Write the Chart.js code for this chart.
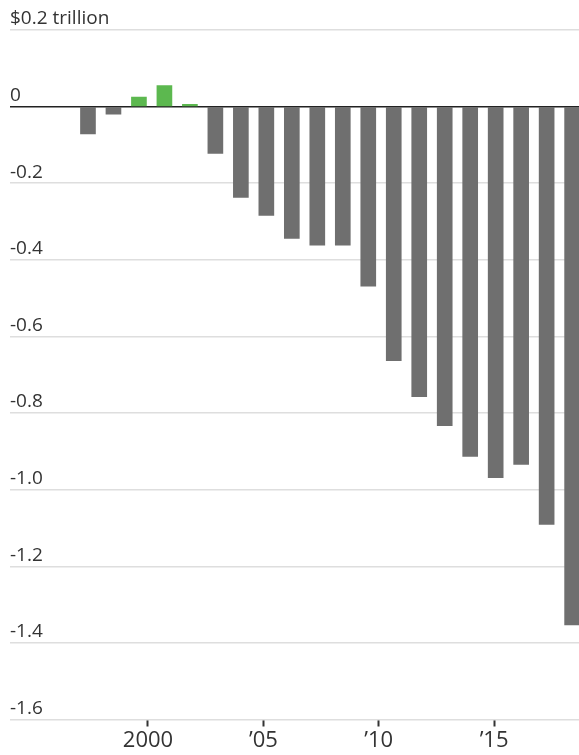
<!DOCTYPE html>
<html>
<head>
<meta charset="utf-8">
<script src="https://cdn.jsdelivr.net/npm/chart.js@4"></script>
<style>
html,body{margin:0;padding:0;background:#fff;}
#wrap{width:579px;height:755px;}
</style>
</head>
<body>
<div id="wrap"><canvas id="grafica" width="579" height="755"></canvas></div>
<script>
// datos
const years=[1997,1998,1999,2000,2001,2002,2003,2004,2005,2006,2007,2008,2009,2010,2011,2012,2013,2014,2015,2016];
const values=[-0.071,-0.020,0.025,0.055,0.006,-0.122,-0.237,-0.284,-0.344,-0.362,-0.362,-0.469,-0.663,-0.757,-0.833,-0.913,-0.969,-0.934,-1.091,-1.353];
const yTicks=[0.2,0,-0.2,-0.4,-0.6,-0.8,-1.0,-1.2,-1.4,-1.6];
const xTickYears=[2000,2005,2010,2015];
const xTickLabels=['2000','\u201905','\u201910','\u201915'];

const fuente='"Open Sans",sans-serif';

function etiquetaY(v){
    if(v===0) return '0';
    if(Math.abs(v-0.2)<1e-9) return '$0.2 trillion';
    return v.toFixed(1);
}

window.onload=function(){
    const ctx=document.getElementById("grafica");
    new Chart(ctx,{
        type:'bar',
        data:{
            datasets:[{
                data:years.map((y,i)=>({x:y,y:values[i]})),
                backgroundColor:c=>c.raw&&c.raw.y>0?'#5cb84f':'#6f6f6f',
                barThickness:15,
                borderWidth:0,
                xAxisID:'x',
                yAxisID:'y'
            }]
        },
        options:{
            responsive:false,
            animation:false,
            layout:{padding:{top:30,right:0,left:0,bottom:0}},
            plugins:{legend:{display:false},tooltip:{enabled:false}},
            scales:{
                x:{
                    type:'linear',
                    offset:false,
                    min:1993.94,
                    max:2016.27,
                    display:false
                },
                x2:{
                    type:'linear',
                    position:'bottom',
                    offset:false,
                    min:1994.02,
                    max:2018.68,
                    afterBuildTicks:s=>{s.ticks=xTickYears.map(v=>({value:v}));},
                    afterFit:s=>{s.height=35.5;},
                    border:{display:false},
                    grid:{offset:false,drawOnChartArea:false,drawTicks:true,tickLength:7,tickColor:'#333',tickWidth:2},
                    ticks:{
                        autoSkip:false,
                        maxRotation:0,
                        padding:1,
                        color:'#333',
                        font:{family:fuente,size:22},
                        callback:v=>xTickLabels[xTickYears.indexOf(v)]
                    }
                },
                y:{
                    min:-1.6,
                    max:0.2,
                    afterBuildTicks:s=>{s.ticks=yTicks.map(v=>({value:v}));},
                    afterFit:s=>{s.width=10;},
                    border:{display:false},
                    grid:{
                        drawTicks:false,
                        color:c=>c.tick&&c.tick.value===0?'#222':'#dedede',
                        lineWidth:1.5
                    },
                    ticks:{
                        mirror:true,
                        padding:0,
                        labelOffset:-11,
                        color:'#333',
                        font:{family:fuente,size:19},
                        callback:v=>etiquetaY(v)
                    }
                }
            }
        }
    });
};
</script>
</body>
</html>
